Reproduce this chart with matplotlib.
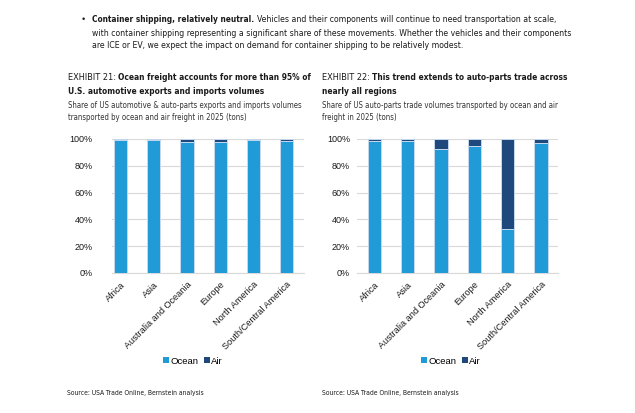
import matplotlib
matplotlib.use("Agg")
import matplotlib.pyplot as plt
from matplotlib.patches import Patch
from matplotlib import font_manager as fm

regions = ["Africa", "Asia", "Australia and Oceania", "Europe", "North America", "South/Central America"]
ocean_left = [99.4, 99.3, 97.5, 98.0, 99.6, 98.8]
air_left = [100 - v for v in ocean_left]
ocean_right = [98.8, 98.8, 92.6, 95.0, 33.0, 97.2]
air_right = [100 - v for v in ocean_right]
yticks = [0, 20, 40, 60, 80, 100]

OCEAN = "#209BD7"
AIR = "#1F497D"
EDGE = "#C5D9EE"
TXT = "#1a1a1a"
SANS = ["Liberation Sans", "DejaVu Sans"]


def find_condensed(bold):
    for f in fm.fontManager.ttflist:
        name = (f.name + " " + f.fname).lower()
        is_bold = f.weight in ("bold", 700, "heavy", 800) or "bold" in f.fname.lower()
        if ("condensed" in name or "narrow" in name or f.stretch in ("condensed", "semi-condensed")) \
                and "italic" not in name and "oblique" not in name and is_bold == bold:
            return fm.FontProperties(fname=f.fname)
    return None


REG = find_condensed(False)
BLD = find_condensed(True)

W, H = 635, 413
fig = plt.figure(figsize=(W / 100, H / 100), dpi=100)
fig.patch.set_facecolor("white")
renderer = fig.canvas.get_renderer()


def fx(px):
    return px / W


def fy(py):
    return 1 - py / H


def props(bold):
    p = BLD if bold else REG
    if p is not None:
        return {"fontproperties": p.copy()}
    return {"family": SANS, "weight": "bold" if bold else "normal"}


def fit_size(s, target, bold):
    t = fig.text(0, 0, s, **props(bold))
    t.set_fontsize(10)
    w = t.get_window_extent(renderer).width
    t.remove()
    return 10 * target / w


def put(x, y, s, size, bold=False, color=TXT):
    t = fig.text(fx(x), fy(y), s, color=color, va="center", **props(bold))
    t.set_fontsize(size)
    return t


def right_edge(t):
    return t.get_window_extent(renderer).x1


# bullet paragraph
bl1b = "Container shipping, relatively neutral."
bl1 = "Vehicles and their components will continue to need transportation at scale,"
bl2 = "with container shipping representing a significant share of these movements. Whether the vehicles and their components"
bl3 = "are ICE or EV, we expect the impact on demand for container shipping to be relatively modest."
bsz = fit_size(bl2, 567 - 92, False)
bbsz = min(bsz, fit_size(bl1b, 252 - 92, True))
fig.text(fx(82), fy(20), "\u2022", fontsize=6.5, family=SANS, color=TXT, va="center")
tb = put(92, 20, bl1b, bbsz, bold=True)
put(right_edge(tb) + 3, 20, bl1, bsz)
put(92, 33.3, bl2, bsz)
put(92, 45.5, bl3, bsz)

# titles
lab_sz = fit_size("EXHIBIT 22:", 370 - 322, False)
ttl_sz = fit_size("This trend extends to auto-parts trade across", 567 - 373, True)
sub_sz = fit_size("Share of US auto-parts trade volumes transported by ocean and air", 557 - 322, False)


def title(x, label, line1, line2, sub1, sub2):
    t = put(x, 77.5, label, lab_sz)
    put(right_edge(t) + 2.5, 77.5, line1, ttl_sz, bold=True)
    put(x, 91, line2, ttl_sz, bold=True)
    put(x, 105.5, sub1, sub_sz, color="#333333")
    put(x, 117.5, sub2, sub_sz, color="#333333")


title(68, "EXHIBIT 21:", "Ocean freight accounts for more than 95% of",
      "U.S. automotive exports and imports volumes",
      "Share of US automotive & auto-parts exports and imports volumes",
      "transported by ocean and air freight in 2025 (tons)")
title(322, "EXHIBIT 22:", "This trend extends to auto-parts trade across",
      "nearly all regions",
      "Share of US auto-parts trade volumes transported by ocean and air",
      "freight in 2025 (tons)")


def panel(x0, x1, xlim, ocean, air, ypad):
    ax = fig.add_axes([fx(x0), fy(273), fx(x1 - x0), (273 - 139) / H])
    pos = list(range(len(regions)))
    ax.bar(pos, ocean, width=0.4, color=OCEAN, edgecolor=EDGE, linewidth=0.7, zorder=3)
    ax.bar(pos, air, bottom=ocean, width=0.4, color=AIR, edgecolor=EDGE, linewidth=0.7, zorder=3)
    ax.set_xlim(*xlim)
    ax.set_ylim(0, 100)
    ax.set_yticks(yticks)
    ax.set_yticklabels([f"{v}%" for v in yticks], family=SANS, fontsize=6.5, color=TXT)
    ax.set_xticks(pos)
    ax.set_xticklabels(regions, rotation=45, ha="right", rotation_mode="anchor",
                       family=SANS, fontsize=6.6, color=TXT)
    ax.tick_params(axis="y", length=0, pad=ypad)
    ax.tick_params(axis="x", length=0, pad=5)
    ax.grid(axis="y", color="#D9D9D9", linewidth=0.8, zorder=0)
    for s in ["top", "right", "left"]:
        ax.spines[s].set_visible(False)
    ax.spines["bottom"].set_color("#D9D9D9")
    ax.spines["bottom"].set_linewidth(0.8)
    return ax


panel(112, 304, (-0.26, 5.52), ocean_left, air_left, 14)
panel(357, 558, (-0.52, 5.51), ocean_right, air_right, 5)

handles = [Patch(facecolor=OCEAN, edgecolor="none"), Patch(facecolor=AIR, edgecolor="none")]
for cx in (193, 451):
    fig.legend(handles, ["Ocean", "Air"], loc="center", bbox_to_anchor=(fx(cx), fy(361)),
               ncol=2, frameon=False, prop={"family": SANS, "size": 6.8},
               handlelength=0.6, handleheight=0.6, handletextpad=0.15, columnspacing=0.6)

src = "Source: USA Trade Online, Bernstein analysis"
src_sz = fit_size(src, 205 - 67, False)
put(67, 393, src, src_sz)
put(322, 393, src, src_sz)

fig.savefig("out.png", dpi=100, facecolor="white")
